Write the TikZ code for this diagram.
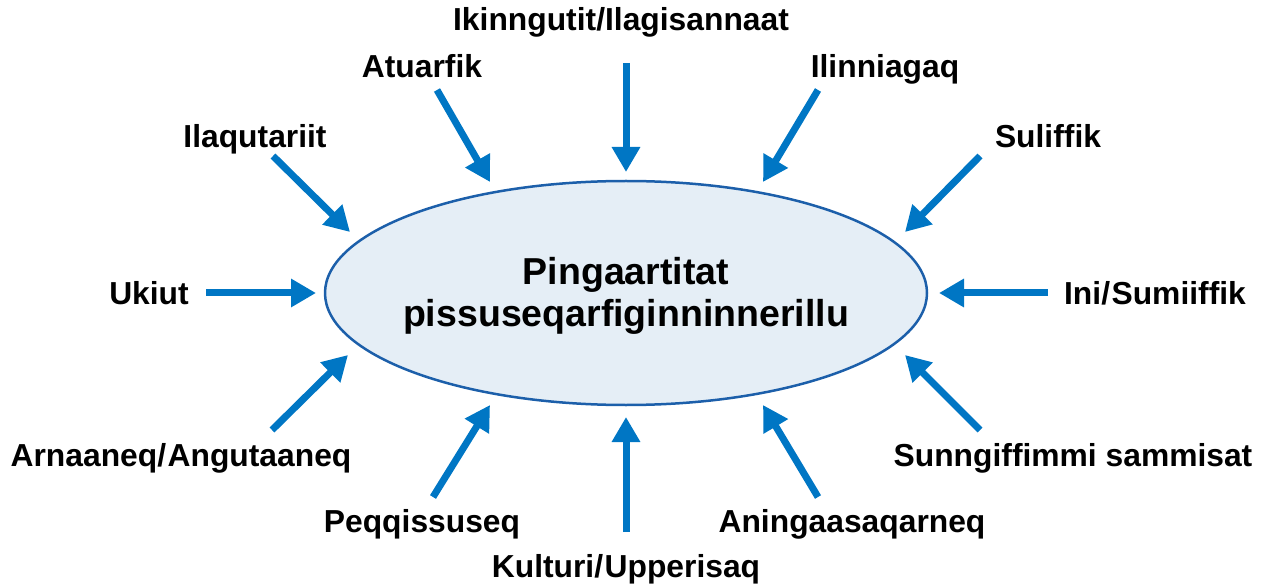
\documentclass[tikz,border=0pt]{standalone}
\usepackage{fontspec}
\setmainfont{Liberation Sans}
\usetikzlibrary{arrows.meta,shapes.geometric}
\definecolor{arrowblue}{RGB}{0,118,196}
\definecolor{rimblue}{RGB}{28,95,170}
\definecolor{corefill}{RGB}{229,238,246}
\begin{document}
\begin{tikzpicture}[x=1pt,y=-1pt,
  lbl/.style={anchor=base,inner sep=0pt,font=\fontsize{31.8}{36}\selectfont\bfseries},
  feed/.style={draw=arrowblue,line width=7pt,-{Triangle[length=25pt,width=27pt]}}]
\useasboundingbox (0,0) rectangle (1266,585);
\node[draw=rimblue,line width=2.5pt,fill=corefill,ellipse,minimum width=602pt,minimum height=224pt,inner sep=0pt] (core) at (626,293) {};
\node[align=center,inner sep=0pt,font=\fontsize{37.5}{42}\selectfont\bfseries] (coretext) at (626,296) {Pingaartitat\\pissuseqarfiginninnerillu};
% labels
\node[lbl] (l1) at (621,31) {Ikinngutit/Ilagisannaat};
\node[lbl] (l2) at (422,78) {Atuarfik};
\node[lbl] (l3) at (885,78) {Ilinniagaq};
\node[lbl] (l4) at (255,148) {Ilaqutariit};
\node[lbl] (l5) at (1048,148) {Suliffik};
\node[lbl] (l6) at (149,305) {Ukiut};
\node[lbl] (l7) at (1155,305) {Ini/\kern1.5pt Sumiiffik};
\node[lbl] (l8) at (181,466) {Arnaaneq/\kern1.5pt Angutaaneq};
\node[lbl] (l9) at (1073,466) {Sunngiffimmi sammisat};
\node[lbl] (l10) at (422,532) {Peqqissuseq};
\node[lbl] (l11) at (852,532) {Aningaasaqarneq};
\node[lbl] (l12) at (626,577) {Kulturi/\kern1.5pt Upperisaq};
% arrow ends
\coordinate (s1) at (626,63);  \coordinate (t1) at (626,172);
\coordinate (s2) at (437,90);  \coordinate (t2) at (490,182);
\coordinate (s3) at (818,90);  \coordinate (t3) at (763,182);
\coordinate (s4) at (273,156); \coordinate (t4) at (350,232);
\coordinate (s5) at (980,156); \coordinate (t5) at (905,232);
\coordinate (s6) at (206,293); \coordinate (t6) at (316,293);
\coordinate (s7) at (1048,293);\coordinate (t7) at (939,293);
\coordinate (s8) at (272,430); \coordinate (t8) at (348,355);
\coordinate (s9) at (980,430); \coordinate (t9) at (905,355);
\coordinate (s10) at (433,497);\coordinate (t10) at (490,405);
\coordinate (s11) at (818,497);\coordinate (t11) at (763,405);
\coordinate (s12) at (626,532);\coordinate (t12) at (626,417);
\foreach \i in {1,...,12} {\draw[feed] (s\i) -- (t\i);}
\end{tikzpicture}
\end{document}
